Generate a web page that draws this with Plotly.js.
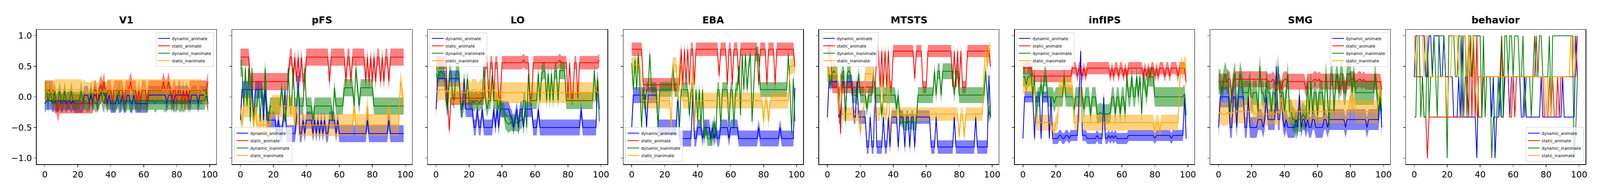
<!DOCTYPE html>
<html>
<head>
<meta charset="utf-8">
<script src="https://cdn.plot.ly/plotly-3.0.1.min.js"></script>
<style>html,body{margin:0;padding:0;overflow:hidden;background:#fff}#chart{width:100vw;height:100vh}</style>
</head>
<body>
<div id="chart"></div>
<script>
// one panel per region, four conditions each
const regions = ["V1", "pFS", "LO", "EBA", "MTSTS", "infIPS", "SMG", "behavior"];
const conditions = ["dynamic_animate", "static_animate", "dynamic_inanimate", "static_inanimate"];
const colors = ["blue", "red", "green", "orange"];
const fills = ["rgba(0,0,255,0.5)", "rgba(255,0,0,0.5)", "rgba(0,128,0,0.5)", "rgba(255,165,0,0.5)"];
const xIndex = Array.from({ length: 100 }, (_, i) => i);

// V1
const v1_dynamic_animate = [
  -0.11,-0.06,-0.06,-0.06,-0.06,-0.11,-0.06,-0.11,-0.06,-0.06,
  -0.11,-0.06,-0.06,-0.11,-0.06,-0.06,-0.11,-0.06,-0.11,-0.11,
  -0.11,-0.11,-0.11,-0.11,0.03,0.03,0.03,-0.11,0.03,-0.11,
  0.03,0.03,-0.11,0.03,0.03,0.12,0.03,0.03,-0.11,0.03,
  -0.11,-0.11,-0.11,-0.11,0.03,-0.11,-0.11,0.03,-0.11,-0.11,
  0.03,0.03,-0.11,-0.11,0.03,-0.11,-0.11,-0.11,-0.11,-0.11,
  -0.11,-0.11,-0.11,0.03,0.03,0.03,0.03,0.03,0.03,0.03,
  0.03,0.03,0.03,0.03,-0.11,0.03,0.03,0.03,-0.11,0.03,
  0.03,0.03,0.03,0.03,0.03,0.03,0.03,0.03,-0.11,0.03,
  0.03,0.03,0.03,-0.11,0.03,0.03,0.03,0.03,0.03,-0.11];
const v1_static_animate = [
  0.11,0.11,0.11,0.11,0.11,0.11,-0.11,-0.11,-0.25,-0.11,
  -0.11,-0.11,-0.11,-0.11,-0.11,-0.11,-0.11,-0.11,-0.11,-0.11,
  -0.11,-0.11,-0.11,-0.11,-0.11,-0.11,-0.11,-0.11,-0.11,-0.11,
  0.11,0.11,-0.11,0.11,0.2,0.11,0.25,-0.11,0.11,0.11,
  0.11,-0.11,0.11,0.11,0.11,0.11,0.11,0.11,-0.11,0.11,
  0.11,0.11,0.25,0.11,0.11,0.11,-0.11,0.11,-0.11,0.11,
  0.11,0.11,-0.11,0.11,0.11,0.11,0.11,0.11,0.11,0.11,
  0.11,0.11,0.25,0.11,0.11,0.25,0.11,-0.11,0.11,0.11,
  -0.11,0.11,0.11,-0.11,0.11,-0.11,0.11,-0.11,0.11,0.11,
  0.11,0.11,0.11,0.11,0.11,0.11,0.11,0.11,0.11,0.25];
const v1_dynamic_inanimate = [
  0.11,0.11,-0.11,0.11,0.0,-0.11,0.1,-0.11,-0.06,0.1,
  -0.06,-0.11,0.1,-0.06,-0.06,-0.06,0.1,-0.06,-0.06,-0.06,
  -0.06,-0.06,0.1,-0.06,-0.06,-0.06,-0.11,-0.06,0.1,-0.06,
  -0.06,-0.11,-0.06,-0.06,0.1,-0.06,-0.11,0.1,-0.06,-0.06,
  -0.06,-0.06,-0.11,-0.06,-0.06,0.1,-0.11,-0.06,-0.06,-0.11,
  -0.06,-0.06,-0.11,-0.06,-0.06,-0.06,-0.06,-0.11,-0.06,-0.06,
  -0.06,-0.06,-0.11,-0.06,-0.06,-0.06,-0.06,-0.11,-0.06,-0.06,
  -0.06,-0.06,-0.06,-0.11,-0.06,-0.06,-0.06,-0.06,-0.06,-0.11,
  -0.06,-0.06,-0.11,-0.06,-0.11,-0.06,-0.06,-0.06,-0.06,-0.06,
  -0.06,-0.06,-0.06,-0.06,-0.06,-0.06,-0.06,-0.06,0.1,-0.11];
const v1_static_inanimate = [
  0.07,0.12,0.07,0.07,0.12,0.07,0.12,0.12,0.12,0.12,
  0.12,0.12,0.12,0.12,0.12,0.12,0.12,0.12,0.12,0.12,
  0.12,0.12,0.12,0.07,0.12,0.07,0.07,0.07,0.07,0.12,
  0.07,0.07,0.07,0.07,0.12,0.07,0.12,0.07,0.12,0.12,
  0.12,0.12,0.12,0.12,0.12,0.12,0.12,0.12,0.12,0.12,
  0.12,0.12,0.12,0.12,0.12,0.12,0.12,0.12,0.12,0.12,
  0.12,0.12,0.12,0.12,0.12,0.12,0.12,0.12,0.12,0.12,
  0.12,0.12,0.12,0.12,0.12,0.12,0.12,0.12,0.12,0.12,
  0.12,0.12,0.12,0.12,0.12,0.12,0.12,0.12,0.12,0.12,
  0.12,0.12,0.12,0.12,0.12,0.12,0.07,0.03,0.03,0.03];

// pFS
const pfs_dynamic_animate = [
  -0.38,0.12,0.12,0.12,0.12,0.12,0.12,0.12,-0.38,0.12,
  0.12,0.12,0.12,0.12,-0.38,0.12,-0.38,-0.38,-0.38,-0.38,
  -0.38,-0.38,-0.6,-0.38,-0.6,-0.6,-0.38,0.12,-0.6,-0.6,
  -0.6,-0.6,-0.6,-0.6,-0.38,0.35,-0.6,-0.6,-0.38,-0.6,
  -0.38,-0.38,-0.38,-0.38,-0.6,-0.38,-0.6,-0.38,-0.6,-0.38,
  -0.6,-0.38,-0.6,-0.6,-0.38,-0.38,-0.38,-0.38,-0.6,-0.38,
  -0.6,-0.6,-0.6,-0.6,-0.6,-0.6,-0.6,-0.6,-0.6,-0.6,
  -0.6,-0.6,-0.6,-0.6,-0.6,-0.6,-0.6,-0.38,-0.6,-0.6,
  -0.6,-0.6,-0.6,-0.6,-0.6,-0.6,-0.6,-0.6,-0.6,-0.6,
  -0.38,-0.6,-0.6,-0.6,-0.6,-0.6,-0.6,-0.6,-0.6,-0.6];
const pfs_static_animate = [
  0.65,0.65,0.65,0.65,0.65,0.65,0.25,0.25,0.25,0.25,
  0.25,0.25,0.25,0.25,0.25,0.25,0.25,0.25,0.25,0.25,
  0.25,0.25,0.25,0.25,0.25,0.25,0.25,0.25,0.25,0.25,
  0.65,0.65,0.25,0.65,0.25,0.65,0.25,0.65,0.25,0.25,
  0.65,0.65,0.65,0.65,0.65,0.65,0.65,0.65,0.65,0.65,
  0.65,0.65,0.65,0.65,0.25,0.65,0.65,0.65,0.65,0.65,
  0.65,0.65,0.65,0.65,0.25,0.65,0.65,0.25,0.65,0.65,
  0.65,0.65,0.65,0.65,0.65,0.65,0.25,0.65,0.25,0.65,
  0.25,0.65,0.25,0.65,0.65,0.25,0.65,0.25,0.65,0.65,
  0.25,0.65,0.65,0.65,0.65,0.65,0.65,0.65,0.65,0.65];
const pfs_dynamic_inanimate = [
  0.47,0.47,-0.15,0.47,-0.15,0.47,-0.4,0.47,-0.4,-0.15,
  -0.15,0.15,-0.4,0.15,-0.15,0.47,-0.15,-0.4,-0.15,-0.15,
  -0.15,-0.15,-0.15,-0.15,-0.15,0.15,-0.15,-0.4,-0.15,0.47,
  -0.15,-0.15,0.47,-0.15,-0.15,0.15,-0.15,-0.15,-0.15,0.47,
  -0.15,-0.15,-0.15,-0.15,-0.4,-0.15,-0.15,-0.15,-0.15,-0.15,
  -0.15,-0.15,-0.15,-0.15,-0.15,-0.15,-0.4,0.15,-0.15,-0.15,
  -0.15,-0.15,-0.15,0.15,0.15,0.15,0.15,0.15,0.15,-0.15,
  0.47,0.15,-0.15,0.15,0.15,0.15,0.15,0.15,0.15,0.15,
  0.15,-0.15,-0.15,-0.15,-0.15,-0.15,-0.15,-0.15,-0.15,-0.15,
  -0.15,-0.15,-0.15,-0.15,-0.15,-0.15,-0.15,-0.15,-0.15,-0.15];
const pfs_static_inanimate = [
  -0.15,-0.46,-0.15,-0.15,-0.15,-0.15,-0.15,-0.15,-0.46,-0.15,
  -0.46,-0.46,-0.46,-0.46,-0.46,-0.46,-0.46,-0.46,-0.46,-0.15,
  -0.15,-0.15,-0.15,-0.15,-0.15,-0.15,-0.15,-0.15,-0.15,-0.15,
  -0.15,-0.15,-0.15,-0.46,-0.15,-0.46,-0.46,-0.46,-0.46,-0.46,
  -0.46,-0.46,-0.46,-0.46,-0.46,-0.46,-0.46,-0.46,-0.46,-0.46,
  -0.46,-0.46,-0.46,-0.46,-0.46,-0.46,-0.46,-0.46,-0.46,-0.46,
  -0.46,-0.46,-0.46,-0.46,-0.46,-0.46,-0.46,-0.46,-0.46,-0.15,
  -0.46,-0.46,-0.46,-0.46,-0.46,-0.46,-0.46,-0.15,-0.46,-0.46,
  -0.46,-0.46,-0.46,-0.46,-0.46,-0.46,-0.46,-0.46,-0.46,-0.46,
  -0.15,-0.46,-0.46,-0.46,-0.46,-0.46,-0.46,0.25,0.1,-0.15];

// LO
const lo_dynamic_animate = [
  -0.2,0.3,0.3,0.3,0.3,0.3,0.3,-0.2,0.3,0.3,
  0.3,0.3,0.3,0.3,0.3,-0.2,-0.2,0.3,-0.2,-0.2,
  -0.2,-0.2,-0.2,-0.5,-0.5,-0.2,-0.5,-0.5,-0.2,-0.5,
  -0.5,-0.5,-0.5,-0.5,-0.5,-0.2,-0.5,-0.2,-0.5,-0.2,
  -0.2,-0.2,-0.2,-0.2,-0.2,-0.3,-0.35,-0.5,-0.35,-0.2,
  -0.5,-0.2,-0.2,-0.5,-0.2,-0.2,-0.2,-0.2,-0.2,-0.5,
  -0.5,-0.5,-0.2,-0.5,-0.5,-0.5,-0.5,-0.5,-0.5,-0.5,
  -0.5,-0.5,-0.5,-0.5,-0.5,-0.5,-0.5,-0.5,-0.5,-0.5,
  -0.5,-0.5,-0.5,-0.5,-0.5,-0.5,-0.5,-0.5,-0.2,-0.5,
  -0.5,-0.5,-0.5,-0.5,-0.5,-0.5,-0.5,-0.5,0.3,-0.2];
const lo_static_animate = [
  0.56,0.56,0.56,0.56,0.56,0.56,0.56,-0.02,-0.55,-0.02,
  -0.02,-0.02,-0.02,-0.02,-0.02,-0.02,-0.02,-0.02,-0.02,-0.02,
  -0.02,-0.02,-0.02,-0.02,-0.02,-0.02,-0.02,-0.02,-0.02,-0.02,
  0.56,0.56,-0.02,0.56,0.56,-0.02,0.56,0.56,-0.02,-0.02,
  0.56,0.56,0.56,0.56,0.56,0.56,0.56,0.56,0.56,0.56,
  0.56,0.56,0.56,0.6,0.56,0.56,0.56,-0.02,-0.02,0.56,
  0.56,0.56,0.56,0.56,0.56,0.56,0.56,0.56,0.56,0.56,
  0.56,0.56,0.56,0.56,0.56,0.6,0.56,0.56,0.56,0.56,
  -0.02,0.56,-0.02,-0.02,0.56,0.56,-0.02,0.56,0.56,0.56,
  0.56,0.56,0.56,0.56,0.56,0.56,0.56,0.56,0.56,0.6];
const lo_dynamic_inanimate = [
  0.38,0.3,0.38,0.43,0.38,0.38,-0.06,-0.2,0.38,0.43,
  0.0,-0.06,0.38,0.43,0.38,-0.2,-0.2,-0.06,-0.06,0.3,
  -0.06,-0.06,-0.06,-0.1,-0.06,-0.06,-0.1,-0.06,-0.06,0.5,
  -0.06,-0.2,-0.06,-0.06,0.35,-0.06,-0.06,-0.06,-0.2,-0.06,
  -0.2,-0.2,-0.38,-0.42,-0.45,-0.42,-0.42,-0.42,-0.42,-0.42,
  -0.45,-0.38,-0.38,-0.06,-0.06,-0.5,0.38,-0.06,-0.06,-0.06,
  -0.06,-0.06,0.38,-0.06,0.38,0.43,0.43,-0.06,0.38,-0.06,
  0.38,-0.06,0.43,0.43,-0.06,0.43,0.43,0.43,0.43,-0.06,
  -0.06,-0.06,-0.06,-0.06,-0.06,-0.06,-0.06,-0.06,-0.06,-0.06,
  -0.06,-0.06,-0.06,-0.06,-0.06,-0.06,0.43,-0.06,0.3,-0.4];
const lo_static_inanimate = [
  0.12,0.07,0.12,0.12,0.12,0.12,0.07,0.12,0.07,0.07,
  0.07,0.07,0.07,0.07,0.07,0.07,0.07,0.07,0.07,0.07,
  0.12,0.07,0.12,0.12,0.12,0.07,0.07,0.12,0.12,0.07,
  0.12,0.07,0.12,0.07,0.07,0.12,0.07,0.07,-0.06,0.07,
  0.07,0.07,0.07,0.07,0.07,0.07,0.07,0.07,0.07,0.07,
  0.07,0.07,0.07,0.07,0.07,0.07,0.07,0.07,0.07,0.07,
  0.07,0.07,0.07,0.07,0.07,0.07,0.07,0.07,0.07,0.07,
  0.07,0.07,0.07,0.07,0.07,0.07,0.07,0.07,0.07,0.07,
  0.07,0.07,0.07,0.07,0.07,0.07,0.07,0.07,0.07,0.07,
  0.07,0.07,0.07,0.07,0.07,0.07,0.07,0.12,0.07,0.07];

// EBA
const eba_dynamic_animate = [
  -0.5,0.03,0.03,0.03,0.03,0.03,0.03,0.03,0.03,-0.5,
  0.03,0.03,0.03,0.03,0.03,0.03,-0.5,-0.5,-0.5,-0.5,
  -0.5,-0.5,-0.5,-0.5,-0.5,-0.5,-0.5,-0.5,0.03,-0.68,
  -0.68,-0.68,-0.68,-0.68,-0.68,-0.68,-0.68,0.03,-0.68,-0.68,
  -0.5,-0.5,-0.5,-0.68,-0.5,-0.5,-0.5,-0.5,-0.68,-0.5,
  -0.68,-0.5,-0.68,-0.68,-0.5,-0.5,-0.5,-0.5,-0.5,-0.68,
  -0.5,-0.5,-0.5,-0.5,-0.5,-0.68,-0.68,-0.68,-0.68,-0.68,
  -0.68,-0.68,-0.68,-0.68,-0.68,-0.68,-0.68,-0.5,-0.68,-0.68,
  -0.68,-0.68,-0.68,-0.68,-0.68,-0.68,-0.68,-0.68,-0.68,-0.68,
  -0.5,-0.68,-0.68,-0.68,-0.68,-0.68,-0.68,-0.68,-0.68,0.15];
const eba_static_animate = [
  0.78,0.78,0.78,0.78,0.78,0.78,0.78,0.2,0.2,0.2,
  0.2,0.2,0.2,0.2,0.2,0.2,0.2,0.2,0.2,0.2,
  0.2,0.2,0.2,0.2,0.2,0.2,0.2,0.2,0.2,0.2,
  0.78,0.2,0.78,0.2,0.78,0.2,0.78,0.78,0.2,0.78,
  0.78,0.78,0.78,0.78,0.78,0.78,0.78,0.78,0.78,0.78,
  0.78,0.78,0.78,0.35,0.78,0.78,0.78,0.78,0.2,0.78,
  0.78,0.2,0.78,0.78,0.78,0.2,0.78,0.78,0.78,0.78,
  0.78,0.78,0.78,0.78,0.78,0.78,0.78,0.2,0.78,0.78,
  0.78,0.78,0.2,0.78,0.78,0.78,0.78,0.2,0.78,0.78,
  0.78,0.78,0.78,0.78,0.78,0.78,0.78,0.78,0.78,0.5];
const eba_dynamic_inanimate = [
  0.55,0.12,0.6,0.12,0.7,0.12,-0.5,0.12,-0.2,0.12,
  0.12,0.7,0.12,0.12,0.12,0.12,-0.5,0.12,0.12,0.12,
  0.12,0.12,0.12,0.12,0.12,0.5,0.12,0.12,0.12,-0.5,
  0.12,0.12,0.12,0.12,0.12,-0.3,0.12,0.12,-0.5,0.12,
  -0.4,0.12,-0.5,0.12,-0.68,-0.5,-0.68,-0.68,-0.68,-0.68,
  -0.4,-0.68,0.12,0.12,-0.5,0.12,0.12,0.12,0.12,-0.5,
  0.12,0.12,-0.5,0.12,0.12,0.5,-0.3,0.7,0.12,0.7,
  0.12,0.5,0.7,-0.4,0.12,0.7,0.7,0.7,0.12,0.12,
  0.12,0.12,0.12,0.12,0.12,0.12,0.12,0.12,0.12,0.12,
  0.12,0.12,0.12,0.12,0.12,0.7,0.12,-0.6,0.3,-0.4];
const eba_static_inanimate = [
  0.52,0.52,0.52,0.52,0.52,0.52,-0.06,-0.06,-0.06,-0.06,
  -0.06,-0.06,-0.06,-0.06,-0.06,-0.06,-0.06,-0.06,-0.06,-0.06,
  -0.06,-0.06,-0.06,-0.06,-0.5,0.52,0.52,0.52,-0.06,0.52,
  0.52,-0.06,-0.06,-0.06,-0.06,-0.06,-0.06,0.52,-0.5,-0.06,
  -0.06,-0.06,-0.06,-0.06,-0.06,-0.06,-0.06,-0.06,-0.06,-0.06,
  -0.06,-0.06,-0.06,-0.06,-0.06,-0.06,-0.06,-0.06,-0.06,-0.06,
  -0.06,-0.06,-0.06,-0.06,-0.06,-0.06,-0.06,-0.06,-0.06,-0.06,
  -0.06,-0.06,-0.06,-0.06,-0.06,-0.06,-0.06,-0.06,-0.06,-0.06,
  -0.4,-0.06,-0.06,-0.4,-0.06,-0.06,-0.06,-0.06,-0.06,-0.06,
  -0.06,-0.06,-0.06,-0.06,-0.06,-0.06,0.5,0.5,0.52,0.48];

// MTSTS
const mtsts_dynamic_animate = [
  -0.33,0.25,0.25,0.25,0.25,0.25,0.25,-0.33,-0.33,0.25,
  0.25,-0.33,0.25,0.25,0.25,0.25,-0.33,-0.33,0.25,-0.33,
  -0.33,-0.33,-0.33,-0.33,-0.82,-0.82,-0.33,-0.82,-0.82,0.25,
  -0.82,-0.82,-0.82,-0.82,-0.33,-0.82,-0.82,-0.33,-0.82,-0.33,
  -0.33,-0.33,-0.33,-0.82,-0.33,-0.33,-0.33,-0.82,-0.33,-0.33,
  -0.82,-0.33,-0.33,-0.82,-0.33,-0.33,-0.33,-0.33,-0.33,-0.33,
  -0.33,-0.33,-0.33,-0.82,-0.82,-0.82,-0.33,-0.82,-0.82,-0.82,
  -0.82,-0.82,-0.82,-0.82,-0.82,-0.82,-0.82,-0.33,-0.82,-0.82,
  -0.82,-0.82,-0.82,-0.82,-0.82,-0.82,-0.82,-0.82,-0.82,-0.82,
  -0.33,-0.82,-0.82,-0.82,-0.82,-0.82,-0.82,-0.82,0.35,-0.33];
const mtsts_static_animate = [
  0.75,0.75,0.75,0.16,0.16,0.16,0.16,0.16,-0.6,0.16,
  0.16,0.16,0.16,0.16,0.16,0.16,0.16,0.16,0.16,0.16,
  0.16,0.16,0.16,0.16,0.16,0.16,0.16,0.16,0.16,0.16,
  0.75,0.75,0.16,0.75,0.16,0.75,0.16,0.75,0.16,0.16,
  0.75,0.75,0.75,0.75,0.75,0.75,0.75,0.75,0.75,0.75,
  0.75,0.75,0.75,0.3,0.75,0.75,0.75,0.75,0.16,0.16,
  0.16,0.75,0.75,0.75,0.75,0.75,0.75,0.75,0.75,0.75,
  0.75,0.75,0.75,0.75,0.75,0.75,0.16,0.75,0.16,0.75,
  0.16,0.75,0.16,0.16,0.16,0.75,0.75,0.75,0.75,0.75,
  0.75,0.75,0.75,0.75,0.75,0.75,0.75,0.75,0.75,0.5];
const mtsts_dynamic_inanimate = [
  0.38,0.38,0.2,0.38,0.43,0.38,0.38,-0.15,0.2,0.38,
  0.43,-0.4,0.38,0.43,0.38,0.03,0.03,0.03,0.0,0.38,
  0.03,0.03,0.03,0.03,-0.2,0.03,0.03,0.03,0.38,0.03,
  0.03,0.03,0.03,-0.3,0.03,0.03,0.03,0.03,0.03,0.03,
  0.03,0.03,-0.2,0.03,-0.33,-0.35,-0.4,-0.42,-0.42,-0.42,
  -0.4,-0.4,-0.42,-0.42,-0.42,0.03,0.03,0.03,0.03,0.03,
  0.03,0.03,0.03,0.03,0.03,0.42,0.03,0.42,0.42,0.03,
  0.42,0.42,0.42,0.42,0.42,0.42,0.42,0.03,0.42,0.42,
  0.03,0.03,0.03,0.03,0.03,0.03,0.03,0.03,0.03,0.03,
  0.03,0.03,0.03,0.03,0.03,0.03,0.42,0.03,-0.3,-0.2];
const mtsts_static_inanimate = [
  0.38,0.38,0.38,0.38,0.38,0.38,0.38,-0.28,0.38,-0.28,
  -0.28,-0.28,-0.28,-0.28,-0.28,-0.28,-0.28,-0.28,-0.28,-0.28,
  -0.6,-0.28,-0.28,0.38,0.38,0.38,0.38,0.38,0.38,-0.28,
  -0.28,-0.28,-0.28,0.38,-0.28,-0.28,-0.28,0.38,-0.6,-0.28,
  -0.28,-0.28,-0.28,-0.28,-0.28,-0.28,-0.28,-0.28,-0.28,-0.28,
  -0.28,-0.28,-0.28,-0.28,-0.28,-0.28,-0.28,-0.28,-0.28,-0.28,
  -0.28,-0.28,-0.28,-0.28,-0.28,-0.28,-0.28,-0.28,-0.28,-0.28,
  -0.28,-0.28,-0.28,-0.28,-0.28,-0.28,-0.28,-0.28,-0.28,-0.28,
  -0.65,-0.28,-0.28,-0.65,-0.28,-0.28,-0.28,-0.28,-0.28,-0.28,
  -0.28,-0.28,-0.28,-0.28,-0.28,0.38,0.8,0.5,0.8,0.75];

// infIPS
const infips_dynamic_animate = [
  -0.68,0.0,0.0,0.0,0.0,0.0,0.0,-0.68,0.0,0.0,
  0.0,-0.68,0.0,0.0,0.0,0.0,-0.68,0.0,-0.68,-0.68,
  -0.68,-0.68,-0.63,-0.63,-0.68,-0.68,-0.63,-0.63,-0.68,-0.63,
  -0.63,-0.63,-0.63,-0.63,0.0,0.75,-0.63,-0.63,-0.63,-0.68,
  -0.68,-0.68,-0.68,-0.68,-0.68,-0.63,-0.68,-0.68,-0.68,0.0,
  -0.68,-0.68,-0.63,-0.68,-0.63,-0.68,-0.63,-0.68,-0.68,-0.68,
  -0.68,-0.68,-0.68,-0.68,-0.63,-0.63,-0.63,-0.63,-0.63,-0.63,
  -0.63,-0.63,-0.63,-0.63,-0.63,-0.63,-0.63,-0.63,-0.63,-0.63,
  -0.68,-0.63,-0.63,-0.63,-0.63,-0.63,-0.63,-0.63,-0.63,-0.63,
  -0.68,-0.63,-0.63,-0.63,-0.63,-0.63,-0.63,-0.63,0.0,-0.68];
const infips_static_animate = [
  0.47,0.47,0.47,0.47,0.47,0.47,0.34,0.34,0.34,0.34,
  0.34,0.34,0.34,0.34,0.34,0.34,0.34,0.34,0.34,0.34,
  0.34,0.34,0.34,0.34,0.34,0.34,0.34,0.34,0.34,0.34,
  0.47,0.47,0.47,0.34,0.47,0.47,0.34,0.47,0.34,0.47,
  0.47,0.47,0.47,0.47,0.47,0.47,0.47,0.47,0.47,0.47,
  0.47,0.47,0.47,0.34,0.47,0.34,0.47,0.47,0.34,0.47,
  0.47,0.34,0.47,0.34,0.47,0.47,0.47,0.47,0.47,0.47,
  0.47,0.47,0.47,0.34,0.47,0.34,0.47,0.34,0.47,0.47,
  0.34,0.47,0.34,0.47,0.47,0.47,0.34,0.47,0.47,0.34,
  0.47,0.47,0.47,0.47,0.34,0.47,0.47,0.47,0.47,0.25];
const infips_dynamic_inanimate = [
  0.33,0.33,0.2,0.33,0.33,0.38,0.0,0.33,-0.35,0.0,
  0.0,0.2,0.0,0.33,0.33,0.0,0.0,0.0,0.0,-0.1,
  0.0,0.0,0.0,0.0,0.0,0.33,0.0,0.0,0.0,0.0,
  0.0,-0.2,0.0,0.0,0.0,0.0,0.0,-0.2,0.0,0.0,
  0.0,-0.3,0.0,0.0,0.0,-0.28,-0.28,-0.25,-0.28,-0.28,
  -0.28,-0.28,-0.28,-0.25,0.0,0.0,-0.28,0.0,0.0,-0.28,
  0.0,0.0,-0.28,0.33,0.0,0.0,0.33,0.0,0.0,0.33,
  0.0,0.33,-0.28,0.33,0.2,0.0,0.33,0.33,0.33,0.33,
  0.0,0.0,0.0,0.0,0.0,0.0,0.0,0.0,0.0,0.0,
  0.0,0.0,0.0,0.0,0.0,0.0,0.0,0.0,0.05,-0.3];
const infips_static_inanimate = [
  0.18,0.18,0.18,0.18,0.18,0.18,0.18,0.18,-0.42,-0.42,
  -0.42,-0.42,-0.42,-0.42,-0.42,-0.42,-0.42,-0.42,-0.55,-0.55,
  -0.42,-0.42,0.18,0.18,0.18,0.18,0.18,0.18,0.18,0.18,
  0.18,-0.42,-0.42,-0.42,-0.42,0.18,-0.42,-0.42,-0.42,-0.42,
  -0.42,-0.42,-0.42,-0.42,-0.42,-0.42,-0.42,-0.42,-0.42,-0.42,
  -0.42,-0.42,-0.42,-0.42,-0.42,-0.42,-0.42,-0.42,-0.42,-0.42,
  -0.42,-0.42,-0.42,-0.42,-0.42,-0.42,-0.42,-0.42,-0.42,-0.42,
  -0.42,-0.42,-0.42,-0.42,-0.42,-0.42,-0.42,-0.42,-0.42,-0.42,
  -0.55,-0.42,-0.42,-0.55,-0.42,-0.42,-0.42,-0.42,-0.42,-0.42,
  -0.42,-0.42,-0.42,-0.42,-0.42,0.2,0.55,0.4,0.55,0.5];

// SMG
const smg_dynamic_animate = [
  -0.5,0.0,0.0,0.0,0.0,0.0,0.0,-0.5,-0.5,0.0,
  0.0,-0.5,0.0,0.0,0.0,0.0,-0.5,-0.5,0.0,-0.5,
  -0.5,-0.5,-0.5,-0.5,-0.37,-0.37,-0.37,-0.5,-0.37,0.0,
  -0.37,-0.37,-0.37,-0.37,-0.37,0.5,-0.37,-0.37,0.03,-0.37,
  -0.5,-0.37,-0.5,-0.5,-0.5,-0.5,-0.5,-0.37,-0.5,0.03,
  -0.5,-0.37,-0.37,-0.5,-0.37,-0.5,-0.5,-0.37,-0.37,-0.5,
  -0.5,-0.5,-0.5,-0.5,-0.37,-0.37,-0.5,-0.37,-0.37,-0.37,
  -0.37,-0.37,-0.37,-0.37,-0.37,-0.37,-0.37,-0.5,-0.37,-0.37,
  -0.37,-0.37,-0.37,-0.37,-0.37,-0.37,-0.37,-0.37,-0.37,-0.37,
  -0.5,-0.37,-0.37,-0.37,-0.37,-0.37,-0.37,-0.37,0.0,-0.5];
const smg_static_animate = [
  0.25,0.25,0.25,0.25,0.25,0.25,0.29,0.29,-0.1,0.25,
  0.29,0.29,0.29,0.29,0.29,0.29,0.29,0.29,0.29,0.29,
  0.29,0.29,0.29,0.29,0.29,0.29,0.29,0.29,0.29,0.29,
  0.25,0.25,0.25,0.29,0.25,0.1,0.25,0.25,0.12,0.25,
  0.29,0.29,0.25,0.25,0.25,0.25,0.25,0.25,0.25,0.25,
  0.25,0.25,0.25,0.12,0.25,0.25,0.25,0.25,0.29,0.29,
  0.25,0.29,0.25,0.25,0.25,0.25,0.25,0.25,0.25,0.25,
  0.25,0.25,0.25,0.25,0.12,0.25,0.25,0.12,0.25,0.25,
  0.29,0.29,0.29,0.25,0.25,0.29,0.29,0.25,0.29,0.25,
  0.25,0.25,0.25,0.25,0.25,0.25,0.25,0.25,0.25,0.12];
const smg_dynamic_inanimate = [
  0.25,0.25,0.07,0.25,0.38,0.25,0.25,-0.25,0.07,0.25,
  0.38,-0.2,0.07,0.38,0.25,0.07,0.07,0.07,0.07,0.25,
  -0.1,0.07,0.07,0.07,-0.24,0.5,0.07,0.07,-0.1,0.25,
  0.07,0.07,-0.24,0.07,0.07,-0.24,0.5,0.07,0.07,0.07,
  -0.24,0.07,0.38,-0.24,-0.24,-0.37,-0.37,-0.5,-0.37,-0.37,
  -0.37,-0.28,-0.32,-0.37,0.25,-0.28,0.25,-0.28,0.07,0.07,
  -0.3,0.07,0.07,0.07,-0.3,0.38,0.07,-0.5,0.38,0.38,
  -0.24,0.25,0.38,0.07,0.38,0.38,0.07,0.07,0.38,0.38,
  0.38,0.07,0.38,0.07,0.07,0.07,0.07,0.07,0.07,0.07,
  0.07,0.07,0.07,0.07,0.07,0.38,0.07,-0.24,0.0,-0.24];
const smg_static_inanimate = [
  -0.28,-0.24,-0.28,-0.28,-0.28,-0.28,-0.24,-0.28,-0.28,-0.24,
  -0.24,-0.24,-0.24,-0.24,-0.24,-0.24,-0.24,-0.24,-0.24,-0.24,
  0.0,-0.24,-0.28,-0.28,-0.28,-0.28,-0.24,-0.28,-0.28,-0.28,
  -0.28,-0.24,-0.28,-0.24,-0.28,-0.28,-0.24,-0.28,0.0,-0.24,
  -0.24,-0.24,-0.24,-0.24,-0.24,-0.24,-0.24,-0.24,-0.24,-0.24,
  -0.24,-0.24,-0.24,-0.24,-0.24,-0.24,-0.24,-0.24,-0.24,-0.24,
  -0.24,-0.24,-0.24,-0.24,-0.24,-0.24,-0.24,-0.24,-0.24,-0.24,
  -0.24,-0.24,-0.24,-0.24,-0.24,-0.24,-0.24,-0.24,-0.24,-0.24,
  0.03,-0.24,0.0,-0.24,-0.24,-0.24,-0.24,-0.24,-0.24,-0.24,
  -0.24,-0.24,-0.24,-0.24,-0.24,-0.24,-0.28,0.03,0.03,0.03];

// behavior
const beh_dynamic_animate = [
  0.33,1,1,1,1,1,1,0.33,0.33,1,
  1,0.33,1,1,1,1,0.33,0.33,1,0.33,
  0.33,0.33,0.33,0.33,-0.33,-0.33,-0.33,0.33,-0.33,1,
  -0.33,-0.33,-0.33,-0.33,-0.33,-0.33,-0.33,-0.33,-1,0.33,
  0.33,0.33,0.33,0.33,0.33,0.33,0.33,-0.33,0.33,-1,
  -0.33,-0.33,0.33,-0.33,-0.33,0.33,0.33,0.33,-0.33,0.33,
  0.33,0.33,0.33,0.33,0.33,-0.33,-0.33,0.33,-0.33,-0.33,
  -0.33,-0.33,-0.33,-0.33,-0.33,-0.33,-0.33,0.33,-0.33,-0.33,
  -0.33,-0.33,-0.33,-0.33,-0.33,-0.33,-0.33,-0.33,-0.33,-0.33,
  0.33,-0.33,-0.33,-0.33,-0.33,-0.33,-0.33,-0.33,1,0.33];
const beh_static_animate = [
  0.33,0.33,0.33,0.33,0.33,0.33,-0.33,-0.33,-1,-0.33,
  -0.33,-0.33,-0.33,-0.33,-0.33,-0.33,-0.33,-0.33,-0.33,-0.33,
  -0.33,-0.33,-0.33,-0.33,-0.33,-0.33,-0.33,-0.33,-0.33,-0.33,
  -0.33,0.33,0.33,-0.33,1,-0.33,1,-0.33,1,-0.33,
  -0.33,-0.33,0.33,0.33,0.33,0.33,0.33,0.33,0.33,0.33,
  0.33,0.33,0.33,1,0.33,0.33,0.33,0.33,-0.33,-0.33,
  0.33,-0.33,0.33,0.33,0.33,0.33,0.33,0.33,0.33,0.33,
  0.33,0.33,0.33,0.33,1,0.33,0.33,0.33,0.33,-0.33,
  -0.33,-0.33,0.33,-0.33,0.33,-0.33,-0.33,0.33,-0.33,0.33,
  0.33,0.33,0.33,0.33,0.33,0.33,0.33,0.33,0.33,1];
const beh_dynamic_inanimate = [
  -0.33,-0.33,1,1,-0.33,0.33,-0.33,-0.33,1,-0.33,
  0.33,0.33,1,0.33,-0.33,1,1,1,1,0.33,
  -1,1,1,1,1,0.33,0.33,1,1,-0.33,
  1,1,-0.33,1,1,0.33,1,1,1,1,
  1,-0.33,1,-0.33,0.33,0.33,0.33,-1,-0.33,-0.33,
  -0.33,0.33,-0.33,1,-0.33,1,1,0.33,1,1,
  0.33,1,1,1,0.33,0.33,1,-0.33,0.33,0.33,
  0.33,-0.33,0.33,1,0.33,0.33,1,1,0.33,0.33,
  0.33,0.33,1,-0.33,1,1,1,1,1,1,
  1,1,1,1,1,1,1,-1,-0.5,0.33];
const beh_static_inanimate = [
  1,0.33,1,1,1,1,0.33,1,1,0.33,
  0.33,0.33,0.33,0.33,0.33,0.33,0.33,0.33,0.33,0.33,
  -0.33,0.33,0.33,1,1,1,1,0.33,1,1,
  1,1,0.33,1,0.33,1,1,0.33,-0.33,0.33,
  0.33,0.33,0.33,0.33,0.33,0.33,0.33,0.33,0.33,0.33,
  0.33,0.33,0.33,0.33,0.33,0.33,0.33,0.33,0.33,0.33,
  0.33,0.33,0.33,0.33,0.33,0.33,0.33,0.33,0.33,0.33,
  0.33,0.33,0.33,0.33,0.33,0.33,0.33,0.33,0.33,0.33,
  -0.33,0.33,0.33,-0.33,0.33,0.33,0.33,0.33,0.33,0.33,
  0.33,0.33,0.33,0.33,0.33,1,0.33,1,0.33,0.33];

// half-width of shaded band per region, order as conditions (behavior has none)
const v1_err = [0.15, 0.16, 0.15, 0.17];
const pfs_err = [0.14, 0.14, 0.14, 0.18];
const lo_err = [0.13, 0.11, 0.14, 0.17];
const eba_err = [0.13, 0.11, 0.12, 0.13];
const mtsts_err = [0.11, 0.1, 0.13, 0.11];
const infips_err = [0.09, 0.1, 0.16, 0.13];
const smg_err = [0.17, 0.13, 0.2, 0.19];

const panelSeries = [
  [v1_dynamic_animate, v1_static_animate, v1_dynamic_inanimate, v1_static_inanimate],
  [pfs_dynamic_animate, pfs_static_animate, pfs_dynamic_inanimate, pfs_static_inanimate],
  [lo_dynamic_animate, lo_static_animate, lo_dynamic_inanimate, lo_static_inanimate],
  [eba_dynamic_animate, eba_static_animate, eba_dynamic_inanimate, eba_static_inanimate],
  [mtsts_dynamic_animate, mtsts_static_animate, mtsts_dynamic_inanimate, mtsts_static_inanimate],
  [infips_dynamic_animate, infips_static_animate, infips_dynamic_inanimate, infips_static_inanimate],
  [smg_dynamic_animate, smg_static_animate, smg_dynamic_inanimate, smg_static_inanimate],
  [beh_dynamic_animate, beh_static_animate, beh_dynamic_inanimate, beh_static_inanimate],
];
const panelErr = [v1_err, pfs_err, lo_err, eba_err, mtsts_err, infips_err, smg_err, null];

// legend placement in design pixels (5600x500): [x, y, xanchor, yanchor]
const legendPos = [
  [748, 83, "right", "top"], [820, 414, "left", "bottom"],
  [1503, 83, "left", "top"], [2188, 414, "left", "bottom"],
  [2873, 83, "left", "top"], [3558, 83, "left", "top"],
  [4857, 83, "right", "top"], [5542, 414, "right", "bottom"],
];

// design is 5600x500; scale to whatever the window really is
const DW = 5600, DH = 500, TOP = 76, BOT = 421, PH = BOT - TOP;
const W = window.innerWidth || DW, H = window.innerHeight || DH;
const fs = Math.min(1, W / DW, H / DH);
const traces = [];
const layout = {
  width: W, height: H,
  margin: { l: 0, r: 0, t: TOP * H / DH, b: (DH - BOT) * H / DH, pad: 0 },
  paper_bgcolor: "white", plot_bgcolor: "white",
  font: { family: "DejaVu Sans", color: "black" },
  annotations: [],
  showlegend: true,
};

regions.forEach((name, p) => {
  const sfx = p === 0 ? "" : String(p + 1);
  const x0 = 128 + 684.7 * p, x1 = x0 + 629;
  const axisStyle = {
    ticks: "outside", ticklen: 6, tickwidth: 1.5,
    tickfont: { size: 30 * fs }, showgrid: false, zeroline: false,
    showline: true, mirror: true, linecolor: "black", linewidth: 1.5,
  };
  layout["xaxis" + sfx] = Object.assign({
    domain: [x0 / DW, x1 / DW], anchor: "y" + sfx,
    range: [-5, 104], tickvals: [0, 20, 40, 60, 80, 100],
  }, axisStyle);
  layout["yaxis" + sfx] = Object.assign({
    domain: [0, 1], anchor: "x" + sfx,
    range: [-1.1, 1.1], tickvals: [-1, -0.5, 0, 0.5, 1],
    ticktext: p === 0 ? ["−1.0", "−0.5", "0.0", "0.5", "1.0"] : ["", "", "", "", ""],
  }, axisStyle);
  layout.annotations.push({
    text: "<b>" + name + "</b>", xref: "paper", yref: "paper",
    x: (x0 + x1) / 2 / DW, y: 1 + (TOP - 52) / PH, xanchor: "center", yanchor: "middle",
    showarrow: false, font: { size: 34 * fs },
  });
  const lp = legendPos[p];
  const legName = p === 0 ? "legend" : "legend" + (p + 1);
  layout[legName] = {
    x: lp[0] / DW, y: lp[3] === "top" ? 1 - (lp[1] - TOP) / PH : (BOT - lp[1]) / PH,
    xanchor: lp[2], yanchor: lp[3], bgcolor: "rgba(255,255,255,0.8)",
    bordercolor: "#cccccc", borderwidth: 1, font: { size: 14 * fs },
    tracegroupgap: 0,
  };

  const err = panelErr[p];
  if (err) {
    panelSeries[p].forEach((ys, s) => {
      const up = ys.map((v) => v + err[s]);
      const lo = ys.map((v) => v - err[s]).reverse();
      traces.push({
        x: xIndex.concat(xIndex.slice().reverse()), y: up.concat(lo),
        xaxis: "x" + sfx, yaxis: "y" + sfx, type: "scatter", mode: "lines",
        fill: "toself", fillcolor: fills[s], line: { width: 0 },
        showlegend: false, hoverinfo: "skip",
      });
    });
  }
  panelSeries[p].forEach((ys, s) => {
    traces.push({
      x: xIndex, y: ys, xaxis: "x" + sfx, yaxis: "y" + sfx,
      type: "scatter", mode: "lines", name: conditions[s],
      line: { color: colors[s], width: 2 }, legend: legName,
    });
  });
});

Plotly.newPlot("chart", traces, layout, { staticPlot: true });
</script>
</body>
</html>
